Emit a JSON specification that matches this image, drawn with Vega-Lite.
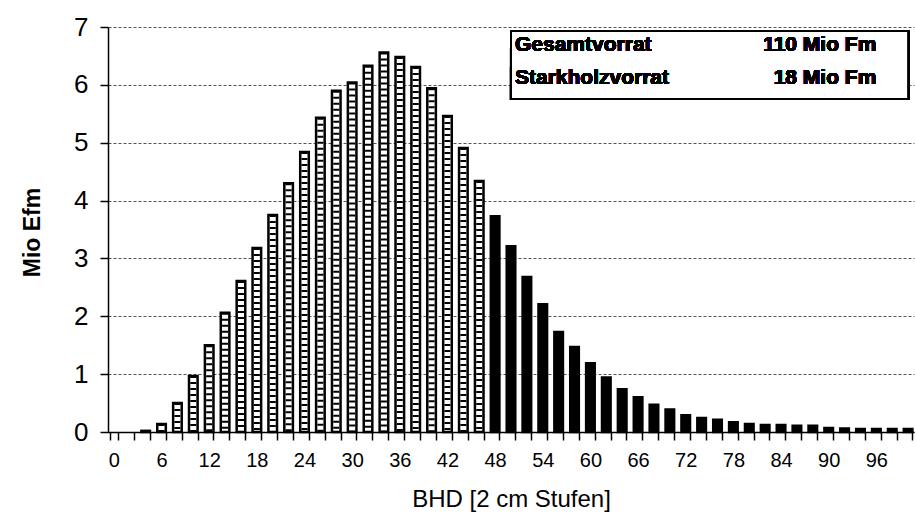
{
  "$schema": "https://vega.github.io/schema/vega-lite/v6.json",
  "width": 806,
  "height": 405,
  "autosize": {"type": "none"},
  "padding": {"left": 108, "top": 27, "right": 2, "bottom": 84},
  "background": "white",
  "config": {"view": {"stroke": null}, "font": "Liberation Sans"},
  "data": {"values": [
    {"BHD": 0, "Efm": 0}, {"BHD": 2, "Efm": 0}, {"BHD": 4, "Efm": 0.02}, {"BHD": 6, "Efm": 0.14},
    {"BHD": 8, "Efm": 0.5}, {"BHD": 10, "Efm": 0.97}, {"BHD": 12, "Efm": 1.5}, {"BHD": 14, "Efm": 2.06},
    {"BHD": 16, "Efm": 2.61}, {"BHD": 18, "Efm": 3.18}, {"BHD": 20, "Efm": 3.75}, {"BHD": 22, "Efm": 4.3},
    {"BHD": 24, "Efm": 4.84}, {"BHD": 26, "Efm": 5.43}, {"BHD": 28, "Efm": 5.9}, {"BHD": 30, "Efm": 6.04},
    {"BHD": 32, "Efm": 6.33}, {"BHD": 34, "Efm": 6.56}, {"BHD": 36, "Efm": 6.48}, {"BHD": 38, "Efm": 6.31},
    {"BHD": 40, "Efm": 5.94}, {"BHD": 42, "Efm": 5.46}, {"BHD": 44, "Efm": 4.91}, {"BHD": 46, "Efm": 4.34},
    {"BHD": 48, "Efm": 3.73}, {"BHD": 50, "Efm": 3.21}, {"BHD": 52, "Efm": 2.68}, {"BHD": 54, "Efm": 2.21},
    {"BHD": 56, "Efm": 1.73}, {"BHD": 58, "Efm": 1.47}, {"BHD": 60, "Efm": 1.19}, {"BHD": 62, "Efm": 0.94},
    {"BHD": 64, "Efm": 0.74}, {"BHD": 66, "Efm": 0.6}, {"BHD": 68, "Efm": 0.47}, {"BHD": 70, "Efm": 0.39},
    {"BHD": 72, "Efm": 0.29}, {"BHD": 74, "Efm": 0.24}, {"BHD": 76, "Efm": 0.21}, {"BHD": 78, "Efm": 0.17},
    {"BHD": 80, "Efm": 0.14}, {"BHD": 82, "Efm": 0.12}, {"BHD": 84, "Efm": 0.12}, {"BHD": 86, "Efm": 0.11},
    {"BHD": 88, "Efm": 0.11}, {"BHD": 90, "Efm": 0.07}, {"BHD": 92, "Efm": 0.06}, {"BHD": 94, "Efm": 0.05},
    {"BHD": 96, "Efm": 0.05}, {"BHD": 98, "Efm": 0.05}, {"BHD": 100, "Efm": 0.05}
  ]},
  "encoding": {
    "x": {
      "field": "BHD", "type": "ordinal",
      "scale": {"paddingInner": 0.46, "paddingOuter": 0.1},
      "axis": {
        "title": "BHD [2 cm Stufen]", "labelAngle": 0,
        "labelExpr": "datum.value % 6 == 0 ? datum.label : ''",
        "tickBand": "extent", "tickSize": 8, "tickColor": "black", "tickWidth": 1.5,
        "domainColor": "black", "domainWidth": 1.5,
        "labelFontSize": 20, "labelColor": "black", "labelPadding": 10,
        "titleFontSize": 24, "titleFontWeight": "normal", "titleColor": "black",
        "titleY": 74, "titleBaseline": "alphabetic", "grid": false
      }
    },
    "y": {
      "field": "Efm", "type": "quantitative",
      "scale": {"domain": [0, 7], "nice": false},
      "axis": {
        "title": "Mio Efm", "values": [0, 1, 2, 3, 4, 5, 6, 7],
        "tickSize": 8, "tickColor": "black", "tickWidth": 1.5,
        "domainColor": "black", "domainWidth": 1.5,
        "labelFontSize": 26, "labelColor": "black", "labelPadding": 12,
        "titleFontSize": 23, "titleFontWeight": "bold", "titleColor": "black",
        "titleX": -76, "titleY": 205, "titleAngle": -90, "titleBaseline": "middle", "titleAlign": "center",
        "grid": true, "gridColor": "#555555", "gridDash": [3, 2], "gridWidth": 1, "gridOpacity": 1
      }
    }
  },
  "layer": [
    {
      "mark": {"type": "bar", "strokeWidth": 2.5, "stroke": "black"},
      "encoding": {
        "fill": {"condition": {"test": "datum.BHD >= 48", "value": "black"}, "value": "white"},
        "strokeOpacity": {"condition": {"test": "datum.Efm <= 0", "value": 0}, "value": 1}
      }
    },
    {
      "transform": [{"filter": "datum.BHD < 48 && datum.Efm > 0.1"}],
      "mark": {"type": "rule", "strokeWidth": 6, "color": "black", "strokeDash": [2, 4]},
      "encoding": {"y2": {"datum": 0}}
    },
    {
      "mark": {"type": "rect", "fill": "white", "stroke": "black", "strokeWidth": 2},
      "encoding": {
        "x": {"datum": 50, "bandPosition": 0.5},
        "x2": {"datum": 100, "bandPosition": 0.5},
        "y": {"datum": 6.93},
        "y2": {"datum": 5.755}
      }
    },
    {
      "mark": {"type": "text", "align": "left", "baseline": "middle", "fontSize": 21, "fontWeight": "bold", "dx": 4, "color": "black"},
      "encoding": {"x": {"datum": 50}, "y": {"datum": 6.69}, "text": {"value": "Gesamtvorrat"}}
    },
    {
      "mark": {"type": "text", "align": "left", "baseline": "middle", "fontSize": 21, "fontWeight": "bold", "dx": 4, "color": "black"},
      "encoding": {"x": {"datum": 50}, "y": {"datum": 6.12}, "text": {"value": "Starkholzvorrat"}}
    },
    {
      "mark": {"type": "text", "align": "right", "baseline": "middle", "fontSize": 21, "fontWeight": "bold", "color": "black"},
      "encoding": {"x": {"datum": 96}, "y": {"datum": 6.69}, "text": {"value": "110 Mio Fm"}}
    },
    {
      "mark": {"type": "text", "align": "right", "baseline": "middle", "fontSize": 21, "fontWeight": "bold", "color": "black"},
      "encoding": {"x": {"datum": 96}, "y": {"datum": 6.12}, "text": {"value": "18 Mio Fm"}}
    }
  ]
}
